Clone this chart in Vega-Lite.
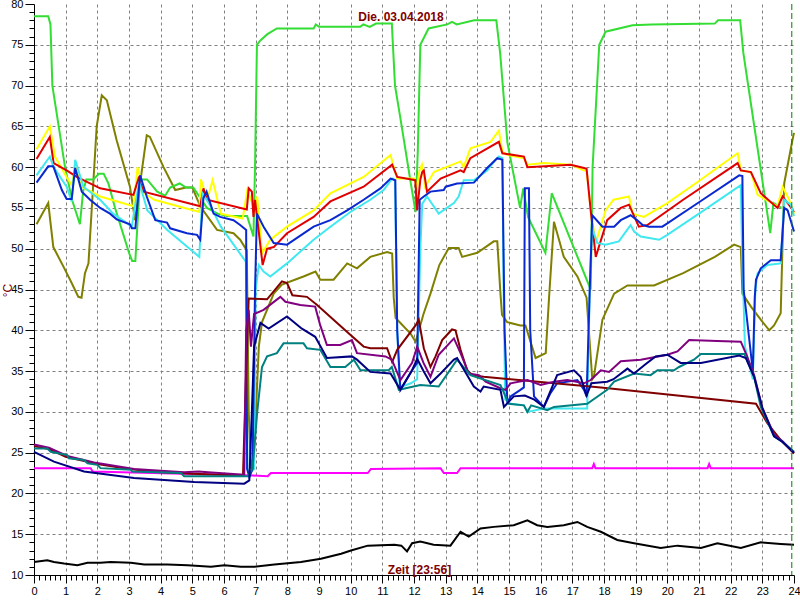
{
"$schema": "https://vega.github.io/schema/vega-lite/v6.json",
"autosize": {"type": "none"},
"padding": {"left": 34, "top": 4, "right": 6, "bottom": 25},
"width": 760,
"height": 571,
"background": "white",
"title": {"text": "Die. 03.04.2018", "color": "#800000", "font": "Liberation Sans", "fontSize": 12, "fontWeight": "bold", "anchor": "middle", "offset": -26, "dx": -13},
"config": {
  "view": {"stroke": null},
  "axis": {"domainColor": "#000000", "tickColor": "#000000", "labelColor": "#000000", "labelFont": "Liberation Sans", "labelFontSize": 11, "labelOverlap": false, "labelFlush": false, "gridColor": "#808080", "gridDash": [3, 3], "gridWidth": 1}
},
"resolve": {"axis": {"x": "independent", "y": "independent"}},
"layer": [
{
"data": {"values": [
{"s":"k","h":0,"t":11.6},{"s":"k","h":0.42,"t":11.8},{"s":"k","h":0.63,"t":11.6},{"s":"k","h":0.95,"t":11.4},{"s":"k","h":1.37,"t":11.2},{"s":"k","h":1.69,"t":11.5},{"s":"k","h":2.1,"t":11.5},{"s":"k","h":2.42,"t":11.6},{"s":"k","h":3.06,"t":11.5},{"s":"k","h":3.48,"t":11.3},{"s":"k","h":4.21,"t":11.3},{"s":"k","h":4.85,"t":11.2},{"s":"k","h":5.59,"t":11.0},{"s":"k","h":6.01,"t":11.2},{"s":"k","h":6.53,"t":11.0},{"s":"k","h":6.96,"t":11.0},{"s":"k","h":7.59,"t":11.3},{"s":"k","h":8.43,"t":11.6},{"s":"k","h":9.06,"t":12.0},{"s":"k","h":9.7,"t":12.6},{"s":"k","h":10.01,"t":13.0},{"s":"k","h":10.54,"t":13.6},{"s":"k","h":11.38,"t":13.7},{"s":"k","h":11.6,"t":13.6},{"s":"k","h":11.78,"t":12.9},{"s":"k","h":11.94,"t":13.9},{"s":"k","h":12.2,"t":14.1},{"s":"k","h":12.62,"t":13.7},{"s":"k","h":13.15,"t":13.6},{"s":"k","h":13.47,"t":15.3},{"s":"k","h":13.73,"t":14.7},{"s":"k","h":14.1,"t":15.7},{"s":"k","h":14.52,"t":15.9},{"s":"k","h":15.15,"t":16.1},{"s":"k","h":15.58,"t":16.7},{"s":"k","h":15.89,"t":16.1},{"s":"k","h":16.21,"t":15.9},{"s":"k","h":16.73,"t":16.1},{"s":"k","h":17.16,"t":16.5},{"s":"k","h":17.47,"t":15.9},{"s":"k","h":17.9,"t":15.3},{"s":"k","h":18.42,"t":14.3},{"s":"k","h":18.95,"t":13.9},{"s":"k","h":19.79,"t":13.3},{"s":"k","h":20.32,"t":13.6},{"s":"k","h":21.06,"t":13.3},{"s":"k","h":21.58,"t":13.9},{"s":"k","h":22.32,"t":13.3},{"s":"k","h":22.95,"t":14.0},{"s":"k","h":23.58,"t":13.8},{"s":"k","h":24,"t":13.7},

{"s":"mg","h":0,"t":23.1},{"s":"mg","h":1.79,"t":23.1},{"s":"mg","h":1.85,"t":22.7},{"s":"mg","h":6.9,"t":22.2},{"s":"mg","h":7.38,"t":22.1},{"s":"mg","h":7.48,"t":22.5},{"s":"mg","h":10.54,"t":22.5},{"s":"mg","h":10.64,"t":23.0},{"s":"mg","h":12.84,"t":23.1},{"s":"mg","h":12.94,"t":22.5},{"s":"mg","h":13.36,"t":22.5},{"s":"mg","h":13.47,"t":23.1},{"s":"mg","h":17.63,"t":23.1},{"s":"mg","h":17.68,"t":23.6},{"s":"mg","h":17.73,"t":23.1},{"s":"mg","h":21.27,"t":23.1},{"s":"mg","h":21.32,"t":23.6},{"s":"mg","h":21.37,"t":23.1},{"s":"mg","h":24,"t":23.1},

{"s":"o","h":0.08,"t":53.0},{"s":"o","h":0.45,"t":55.6},{"s":"o","h":0.61,"t":50.2},{"s":"o","h":0.93,"t":47.8},{"s":"o","h":1.19,"t":45.8},{"s":"o","h":1.4,"t":44.1},{"s":"o","h":1.5,"t":44.0},{"s":"o","h":1.61,"t":47.0},{"s":"o","h":1.72,"t":48.2},{"s":"o","h":1.98,"t":65.0},{"s":"o","h":2.14,"t":68.8},{"s":"o","h":2.3,"t":68.2},{"s":"o","h":2.61,"t":63.3},{"s":"o","h":3.03,"t":57.6},{"s":"o","h":3.19,"t":53.5},{"s":"o","h":3.35,"t":58.0},{"s":"o","h":3.56,"t":63.9},{"s":"o","h":3.66,"t":63.7},{"s":"o","h":4.09,"t":60.0},{"s":"o","h":4.46,"t":57.2},{"s":"o","h":4.8,"t":57.5},{"s":"o","h":5.0,"t":57.5},{"s":"o","h":5.25,"t":55.2},{"s":"o","h":5.78,"t":52.3},{"s":"o","h":6.3,"t":51.9},{"s":"o","h":6.51,"t":51.1},{"s":"o","h":6.72,"t":49.8},{"s":"o","h":6.78,"t":30.0},{"s":"o","h":6.85,"t":23.0},{"s":"o","h":6.95,"t":25.0},{"s":"o","h":7.1,"t":38.0},{"s":"o","h":7.2,"t":41.0},{"s":"o","h":7.57,"t":44.5},{"s":"o","h":7.83,"t":45.6},{"s":"o","h":8.51,"t":46.6},{"s":"o","h":8.89,"t":47.2},{"s":"o","h":9.04,"t":46.2},{"s":"o","h":9.46,"t":46.2},{"s":"o","h":9.89,"t":48.2},{"s":"o","h":10.2,"t":47.6},{"s":"o","h":10.62,"t":49.0},{"s":"o","h":11.15,"t":49.6},{"s":"o","h":11.31,"t":49.4},{"s":"o","h":11.36,"t":44.0},{"s":"o","h":11.42,"t":41.5},{"s":"o","h":11.89,"t":39.6},{"s":"o","h":12.05,"t":38.6},{"s":"o","h":12.3,"t":42.0},{"s":"o","h":12.52,"t":44.5},{"s":"o","h":12.8,"t":48.0},{"s":"o","h":13.1,"t":50.1},{"s":"o","h":13.41,"t":50.1},{"s":"o","h":13.52,"t":49.0},{"s":"o","h":14.0,"t":49.5},{"s":"o","h":14.52,"t":50.9},{"s":"o","h":14.63,"t":50.9},{"s":"o","h":14.73,"t":44.5},{"s":"o","h":14.78,"t":41.9},{"s":"o","h":14.94,"t":41.0},{"s":"o","h":15.36,"t":40.6},{"s":"o","h":15.52,"t":40.6},{"s":"o","h":15.84,"t":36.6},{"s":"o","h":16.16,"t":37.2},{"s":"o","h":16.26,"t":43.7},{"s":"o","h":16.42,"t":53.3},{"s":"o","h":16.73,"t":49.0},{"s":"o","h":17.16,"t":46.6},{"s":"o","h":17.45,"t":44.0},{"s":"o","h":17.63,"t":34.0},{"s":"o","h":17.68,"t":34.3},{"s":"o","h":17.95,"t":41.3},{"s":"o","h":18.32,"t":44.5},{"s":"o","h":18.74,"t":45.5},{"s":"o","h":19.58,"t":45.5},{"s":"o","h":20.5,"t":47.0},{"s":"o","h":21.5,"t":49.0},{"s":"o","h":22.11,"t":50.5},{"s":"o","h":22.32,"t":50.2},{"s":"o","h":22.37,"t":44.5},{"s":"o","h":22.64,"t":42.9},{"s":"o","h":22.95,"t":41.3},{"s":"o","h":23.22,"t":40.0},{"s":"o","h":23.37,"t":40.6},{"s":"o","h":23.58,"t":42.1},{"s":"o","h":23.69,"t":58.0},{"s":"o","h":23.95,"t":63.3},{"s":"o","h":24,"t":64.2},

{"s":"g","h":0,"t":78.5},{"s":"g","h":0.45,"t":78.5},{"s":"g","h":0.52,"t":77.5},{"s":"g","h":0.58,"t":70.0},{"s":"g","h":0.8,"t":64.5},{"s":"g","h":0.98,"t":60.0},{"s":"g","h":1.2,"t":56.0},{"s":"g","h":1.45,"t":53.0},{"s":"g","h":1.55,"t":57.0},{"s":"g","h":1.65,"t":58.5},{"s":"g","h":1.87,"t":58.5},{"s":"g","h":2.05,"t":59.2},{"s":"g","h":2.2,"t":59.2},{"s":"g","h":2.35,"t":58.0},{"s":"g","h":2.56,"t":55.0},{"s":"g","h":2.8,"t":52.0},{"s":"g","h":3.0,"t":49.5},{"s":"g","h":3.1,"t":48.5},{"s":"g","h":3.2,"t":48.5},{"s":"g","h":3.35,"t":58.5},{"s":"g","h":3.57,"t":58.5},{"s":"g","h":3.89,"t":57.0},{"s":"g","h":4.14,"t":56.5},{"s":"g","h":4.3,"t":57.5},{"s":"g","h":4.6,"t":58.0},{"s":"g","h":4.8,"t":57.5},{"s":"g","h":5.03,"t":57.5},{"s":"g","h":5.46,"t":55.0},{"s":"g","h":5.8,"t":54.3},{"s":"g","h":6.1,"t":54.0},{"s":"g","h":6.73,"t":54.0},{"s":"g","h":6.93,"t":51.5},{"s":"g","h":6.98,"t":60.0},{"s":"g","h":7.04,"t":75.0},{"s":"g","h":7.14,"t":75.5},{"s":"g","h":7.37,"t":76.3},{"s":"g","h":7.67,"t":77.0},{"s":"g","h":8.83,"t":77.0},{"s":"g","h":8.9,"t":77.5},{"s":"g","h":9.0,"t":77.2},{"s":"g","h":10.3,"t":77.2},{"s":"g","h":10.4,"t":77.5},{"s":"g","h":10.6,"t":77.2},{"s":"g","h":10.8,"t":77.6},{"s":"g","h":11.3,"t":77.6},{"s":"g","h":11.4,"t":70.0},{"s":"g","h":11.57,"t":66.0},{"s":"g","h":11.9,"t":58.0},{"s":"g","h":12.05,"t":54.5},{"s":"g","h":12.12,"t":62.0},{"s":"g","h":12.2,"t":75.0},{"s":"g","h":12.46,"t":77.0},{"s":"g","h":13.05,"t":77.5},{"s":"g","h":13.2,"t":77.8},{"s":"g","h":13.35,"t":77.5},{"s":"g","h":13.9,"t":78.0},{"s":"g","h":14.6,"t":78.0},{"s":"g","h":14.72,"t":74.0},{"s":"g","h":14.95,"t":63.0},{"s":"g","h":15.35,"t":55.0},{"s":"g","h":15.45,"t":57.4},{"s":"g","h":15.6,"t":53.9},{"s":"g","h":16.15,"t":49.5},{"s":"g","h":16.35,"t":56.8},{"s":"g","h":17.58,"t":45.0},{"s":"g","h":17.64,"t":60.0},{"s":"g","h":17.85,"t":75.0},{"s":"g","h":18.05,"t":76.6},{"s":"g","h":18.9,"t":77.4},{"s":"g","h":19.5,"t":77.5},{"s":"g","h":21.5,"t":77.6},{"s":"g","h":21.6,"t":78.0},{"s":"g","h":22.3,"t":78.0},{"s":"g","h":22.4,"t":74.0},{"s":"g","h":23.25,"t":51.9},{"s":"g","h":23.35,"t":55.6},{"s":"g","h":23.6,"t":55.0},

{"s":"y","h":0.08,"t":62.2},{"s":"y","h":0.5,"t":65.0},{"s":"y","h":0.66,"t":61.3},{"s":"y","h":1.03,"t":58.8},{"s":"y","h":1.19,"t":57.8},{"s":"y","h":1.3,"t":60.0},{"s":"y","h":1.5,"t":57.6},{"s":"y","h":2.09,"t":56.4},{"s":"y","h":3.14,"t":55.2},{"s":"y","h":3.22,"t":58.0},{"s":"y","h":3.27,"t":60.0},{"s":"y","h":3.48,"t":56.8},{"s":"y","h":3.8,"t":56.0},{"s":"y","h":5.22,"t":54.5},{"s":"y","h":5.27,"t":58.5},{"s":"y","h":5.47,"t":56.0},{"s":"y","h":5.64,"t":58.4},{"s":"y","h":5.9,"t":54.3},{"s":"y","h":6.59,"t":53.7},{"s":"y","h":6.74,"t":57.2},{"s":"y","h":6.9,"t":55.5},{"s":"y","h":6.96,"t":54.3},{"s":"y","h":7.05,"t":56.4},{"s":"y","h":7.2,"t":49.4},{"s":"y","h":7.46,"t":51.1},{"s":"y","h":7.99,"t":52.7},{"s":"y","h":8.83,"t":54.7},{"s":"y","h":9.36,"t":56.8},{"s":"y","h":10.41,"t":58.8},{"s":"y","h":11.26,"t":61.5},{"s":"y","h":11.36,"t":60.0},{"s":"y","h":11.47,"t":58.6},{"s":"y","h":12.0,"t":58.6},{"s":"y","h":12.1,"t":57.5},{"s":"y","h":12.17,"t":59.5},{"s":"y","h":12.25,"t":60.3},{"s":"y","h":12.35,"t":57.6},{"s":"y","h":12.63,"t":59.4},{"s":"y","h":13.47,"t":60.7},{"s":"y","h":13.57,"t":60.0},{"s":"y","h":13.78,"t":62.3},{"s":"y","h":14.42,"t":63.1},{"s":"y","h":14.68,"t":64.5},{"s":"y","h":14.79,"t":61.9},{"s":"y","h":14.94,"t":61.5},{"s":"y","h":15.47,"t":61.1},{"s":"y","h":15.58,"t":60.3},{"s":"y","h":16.1,"t":60.5},{"s":"y","h":16.95,"t":60.3},{"s":"y","h":17.37,"t":59.6},{"s":"y","h":17.45,"t":59.6},{"s":"y","h":17.58,"t":54.7},{"s":"y","h":17.74,"t":50.7},{"s":"y","h":18.05,"t":54.7},{"s":"y","h":18.3,"t":56.0},{"s":"y","h":18.79,"t":56.4},{"s":"y","h":18.9,"t":54.3},{"s":"y","h":19.26,"t":53.9},{"s":"y","h":20.0,"t":55.6},{"s":"y","h":21.0,"t":58.3},{"s":"y","h":22.22,"t":61.7},{"s":"y","h":22.32,"t":59.6},{"s":"y","h":22.64,"t":59.4},{"s":"y","h":22.85,"t":56.6},{"s":"y","h":23.48,"t":55.2},{"s":"y","h":23.64,"t":57.6},{"s":"y","h":23.85,"t":56.0},{"s":"y","h":24,"t":54.3},

{"s":"r","h":0.08,"t":61.0},{"s":"r","h":0.5,"t":63.7},{"s":"r","h":0.62,"t":60.5},{"s":"r","h":1.03,"t":59.6},{"s":"r","h":1.35,"t":58.8},{"s":"r","h":2.09,"t":57.4},{"s":"r","h":3.14,"t":56.6},{"s":"r","h":3.3,"t":58.6},{"s":"r","h":3.46,"t":57.0},{"s":"r","h":5.25,"t":55.2},{"s":"r","h":5.35,"t":57.4},{"s":"r","h":5.46,"t":56.0},{"s":"r","h":6.72,"t":54.8},{"s":"r","h":6.78,"t":57.4},{"s":"r","h":6.88,"t":57.0},{"s":"r","h":6.93,"t":53.9},{"s":"r","h":6.98,"t":56.0},{"s":"r","h":7.1,"t":52.0},{"s":"r","h":7.22,"t":48.0},{"s":"r","h":7.36,"t":50.0},{"s":"r","h":7.57,"t":50.2},{"s":"r","h":7.99,"t":51.9},{"s":"r","h":8.83,"t":53.9},{"s":"r","h":9.36,"t":55.8},{"s":"r","h":10.41,"t":57.6},{"s":"r","h":11.31,"t":60.3},{"s":"r","h":11.47,"t":58.8},{"s":"r","h":12.04,"t":58.4},{"s":"r","h":12.1,"t":54.7},{"s":"r","h":12.2,"t":58.5},{"s":"r","h":12.26,"t":59.4},{"s":"r","h":12.31,"t":59.6},{"s":"r","h":12.41,"t":57.0},{"s":"r","h":12.84,"t":58.6},{"s":"r","h":13.47,"t":59.6},{"s":"r","h":13.57,"t":59.4},{"s":"r","h":13.78,"t":61.1},{"s":"r","h":14.68,"t":63.1},{"s":"r","h":14.79,"t":61.7},{"s":"r","h":15.47,"t":61.3},{"s":"r","h":15.58,"t":60.0},{"s":"r","h":16.95,"t":60.3},{"s":"r","h":17.37,"t":59.9},{"s":"r","h":17.45,"t":59.8},{"s":"r","h":17.58,"t":54.7},{"s":"r","h":17.74,"t":49.0},{"s":"r","h":18.1,"t":53.5},{"s":"r","h":18.53,"t":55.0},{"s":"r","h":18.79,"t":55.4},{"s":"r","h":19.1,"t":52.7},{"s":"r","h":19.37,"t":52.9},{"s":"r","h":20.5,"t":56.0},{"s":"r","h":22.22,"t":60.5},{"s":"r","h":22.32,"t":59.6},{"s":"r","h":22.64,"t":59.4},{"s":"r","h":22.95,"t":56.8},{"s":"r","h":23.48,"t":55.0},{"s":"r","h":23.64,"t":56.4},{"s":"r","h":23.8,"t":55.6},{"s":"r","h":24,"t":54.5},

{"s":"c","h":0.08,"t":59.0},{"s":"c","h":0.5,"t":61.3},{"s":"c","h":0.62,"t":60.0},{"s":"c","h":1.03,"t":57.6},{"s":"c","h":1.19,"t":55.8},{"s":"c","h":1.3,"t":60.9},{"s":"c","h":1.56,"t":57.6},{"s":"c","h":2.09,"t":56.0},{"s":"c","h":2.5,"t":54.3},{"s":"c","h":3.09,"t":52.7},{"s":"c","h":3.18,"t":55.0},{"s":"c","h":3.32,"t":58.2},{"s":"c","h":3.58,"t":54.7},{"s":"c","h":4.21,"t":52.3},{"s":"c","h":5.22,"t":49.0},{"s":"c","h":5.32,"t":56.8},{"s":"c","h":5.58,"t":55.2},{"s":"c","h":5.9,"t":52.7},{"s":"c","h":6.69,"t":48.4},{"s":"c","h":6.74,"t":23.0},{"s":"c","h":6.8,"t":22.5},{"s":"c","h":6.95,"t":23.0},{"s":"c","h":7.0,"t":45.0},{"s":"c","h":7.1,"t":48.0},{"s":"c","h":7.25,"t":47.2},{"s":"c","h":7.46,"t":46.6},{"s":"c","h":7.99,"t":48.2},{"s":"c","h":8.83,"t":51.1},{"s":"c","h":9.36,"t":52.7},{"s":"c","h":9.99,"t":54.5},{"s":"c","h":10.62,"t":56.0},{"s":"c","h":11.04,"t":57.2},{"s":"c","h":11.31,"t":58.6},{"s":"c","h":11.4,"t":58.4},{"s":"c","h":11.47,"t":40.0},{"s":"c","h":11.55,"t":33.0},{"s":"c","h":11.9,"t":33.5},{"s":"c","h":12.1,"t":34.0},{"s":"c","h":12.2,"t":50.0},{"s":"c","h":12.26,"t":55.5},{"s":"c","h":12.41,"t":56.4},{"s":"c","h":12.78,"t":54.3},{"s":"c","h":13.26,"t":55.6},{"s":"c","h":13.41,"t":56.4},{"s":"c","h":13.57,"t":58.4},{"s":"c","h":13.89,"t":58.4},{"s":"c","h":14.31,"t":59.6},{"s":"c","h":14.57,"t":60.9},{"s":"c","h":14.68,"t":61.3},{"s":"c","h":14.79,"t":61.1},{"s":"c","h":14.83,"t":45.0},{"s":"c","h":14.88,"t":31.5},{"s":"c","h":15.05,"t":31.0},{"s":"c","h":15.47,"t":30.8},{"s":"c","h":15.58,"t":30.0},{"s":"c","h":16.1,"t":30.4},{"s":"c","h":17.47,"t":30.4},{"s":"c","h":17.55,"t":45.0},{"s":"c","h":17.62,"t":53.0},{"s":"c","h":17.68,"t":51.9},{"s":"c","h":17.79,"t":50.7},{"s":"c","h":18.05,"t":50.5},{"s":"c","h":18.47,"t":50.9},{"s":"c","h":18.69,"t":52.1},{"s":"c","h":18.84,"t":52.9},{"s":"c","h":18.95,"t":52.1},{"s":"c","h":19.16,"t":51.5},{"s":"c","h":19.74,"t":51.1},{"s":"c","h":20.0,"t":51.7},{"s":"c","h":21.0,"t":54.3},{"s":"c","h":22.32,"t":57.8},{"s":"c","h":22.36,"t":50.0},{"s":"c","h":22.45,"t":38.0},{"s":"c","h":22.7,"t":34.0},{"s":"c","h":22.78,"t":45.0},{"s":"c","h":22.85,"t":47.0},{"s":"c","h":23.16,"t":48.0},{"s":"c","h":23.58,"t":48.2},{"s":"c","h":23.69,"t":56.0},{"s":"c","h":23.9,"t":55.4},{"s":"c","h":24,"t":54.0},

{"s":"b","h":0.08,"t":58.1},{"s":"b","h":0.45,"t":60.1},{"s":"b","h":0.61,"t":60.1},{"s":"b","h":0.88,"t":57.2},{"s":"b","h":1.03,"t":56.1},{"s":"b","h":1.19,"t":56.1},{"s":"b","h":1.3,"t":59.9},{"s":"b","h":1.51,"t":57.0},{"s":"b","h":1.77,"t":56.0},{"s":"b","h":2.09,"t":55.0},{"s":"b","h":2.4,"t":54.3},{"s":"b","h":2.61,"t":53.6},{"s":"b","h":3.03,"t":53.0},{"s":"b","h":3.09,"t":52.5},{"s":"b","h":3.2,"t":52.5},{"s":"b","h":3.35,"t":59.0},{"s":"b","h":3.56,"t":56.4},{"s":"b","h":3.83,"t":53.5},{"s":"b","h":4.2,"t":53.2},{"s":"b","h":4.3,"t":52.5},{"s":"b","h":4.83,"t":51.9},{"s":"b","h":5.15,"t":51.7},{"s":"b","h":5.25,"t":51.1},{"s":"b","h":5.35,"t":56.2},{"s":"b","h":5.45,"t":57.0},{"s":"b","h":5.67,"t":54.3},{"s":"b","h":5.88,"t":53.9},{"s":"b","h":6.3,"t":53.5},{"s":"b","h":6.51,"t":52.9},{"s":"b","h":6.7,"t":52.3},{"s":"b","h":6.73,"t":23.0},{"s":"b","h":6.8,"t":22.0},{"s":"b","h":6.9,"t":23.0},{"s":"b","h":6.98,"t":45.0},{"s":"b","h":7.04,"t":54.3},{"s":"b","h":7.25,"t":52.7},{"s":"b","h":7.57,"t":50.7},{"s":"b","h":7.99,"t":50.5},{"s":"b","h":8.83,"t":52.7},{"s":"b","h":9.36,"t":53.5},{"s":"b","h":9.89,"t":54.7},{"s":"b","h":10.41,"t":56.0},{"s":"b","h":10.94,"t":57.4},{"s":"b","h":11.26,"t":58.6},{"s":"b","h":11.41,"t":58.4},{"s":"b","h":11.47,"t":40.0},{"s":"b","h":11.57,"t":32.7},{"s":"b","h":11.94,"t":35.1},{"s":"b","h":12.1,"t":36.0},{"s":"b","h":12.18,"t":56.0},{"s":"b","h":12.31,"t":56.4},{"s":"b","h":12.52,"t":57.0},{"s":"b","h":12.94,"t":57.2},{"s":"b","h":13.0,"t":57.6},{"s":"b","h":13.36,"t":58.0},{"s":"b","h":13.89,"t":58.1},{"s":"b","h":14.1,"t":59.0},{"s":"b","h":14.31,"t":59.9},{"s":"b","h":14.63,"t":61.1},{"s":"b","h":14.79,"t":60.9},{"s":"b","h":14.86,"t":40.0},{"s":"b","h":14.95,"t":31.0},{"s":"b","h":15.05,"t":31.9},{"s":"b","h":15.36,"t":32.7},{"s":"b","h":15.47,"t":33.0},{"s":"b","h":15.5,"t":57.4},{"s":"b","h":15.63,"t":57.4},{"s":"b","h":15.67,"t":40.0},{"s":"b","h":15.79,"t":31.9},{"s":"b","h":16.1,"t":30.6},{"s":"b","h":16.31,"t":32.3},{"s":"b","h":16.52,"t":33.5},{"s":"b","h":17.16,"t":33.9},{"s":"b","h":17.37,"t":32.7},{"s":"b","h":17.45,"t":31.9},{"s":"b","h":17.55,"t":45.0},{"s":"b","h":17.63,"t":54.1},{"s":"b","h":17.95,"t":52.7},{"s":"b","h":18.32,"t":52.7},{"s":"b","h":18.53,"t":53.5},{"s":"b","h":18.84,"t":54.1},{"s":"b","h":19.05,"t":53.5},{"s":"b","h":19.22,"t":52.9},{"s":"b","h":19.42,"t":52.7},{"s":"b","h":19.84,"t":52.7},{"s":"b","h":20.0,"t":53.1},{"s":"b","h":21.0,"t":55.7},{"s":"b","h":22.27,"t":59.0},{"s":"b","h":22.37,"t":58.9},{"s":"b","h":22.41,"t":45.0},{"s":"b","h":22.7,"t":35.0},{"s":"b","h":22.76,"t":44.0},{"s":"b","h":22.8,"t":46.2},{"s":"b","h":22.95,"t":47.6},{"s":"b","h":23.27,"t":48.6},{"s":"b","h":23.58,"t":48.6},{"s":"b","h":23.69,"t":55.0},{"s":"b","h":23.8,"t":54.7},{"s":"b","h":24,"t":52.1},

{"s":"m","h":0,"t":25.8},{"s":"m","h":0.5,"t":25.4},{"s":"m","h":1,"t":24.5},{"s":"m","h":2,"t":23.6},{"s":"m","h":3,"t":23.0},{"s":"m","h":4,"t":22.6},{"s":"m","h":5,"t":22.4},{"s":"m","h":6.6,"t":22.2},{"s":"m","h":6.7,"t":35.0},{"s":"m","h":6.78,"t":43.9},{"s":"m","h":7.36,"t":43.8},{"s":"m","h":7.83,"t":46.0},{"s":"m","h":7.99,"t":45.8},{"s":"m","h":8.16,"t":44.3},{"s":"m","h":8.62,"t":44.1},{"s":"m","h":8.94,"t":43.1},{"s":"m","h":9.89,"t":39.8},{"s":"m","h":10.41,"t":38.0},{"s":"m","h":10.62,"t":37.8},{"s":"m","h":11.15,"t":37.8},{"s":"m","h":11.31,"t":36.1},{"s":"m","h":11.47,"t":37.6},{"s":"m","h":12.05,"t":40.6},{"s":"m","h":12.15,"t":41.3},{"s":"m","h":12.31,"t":37.8},{"s":"m","h":12.52,"t":35.5},{"s":"m","h":12.68,"t":36.8},{"s":"m","h":12.89,"t":38.8},{"s":"m","h":13.2,"t":40.1},{"s":"m","h":13.31,"t":40.0},{"s":"m","h":13.47,"t":37.6},{"s":"m","h":13.68,"t":35.1},{"s":"m","h":13.84,"t":34.5},{"s":"m","h":14.2,"t":34.3},{"s":"m","h":17.9,"t":33.0},{"s":"m","h":22.8,"t":31.0},{"s":"m","h":23.16,"t":28.6},{"s":"m","h":23.59,"t":26.5},{"s":"m","h":24,"t":24.9},

{"s":"p","h":0,"t":26.0},{"s":"p","h":0.47,"t":25.6},{"s":"p","h":1.05,"t":24.6},{"s":"p","h":1.9,"t":23.8},{"s":"p","h":3.16,"t":23.0},{"s":"p","h":4.74,"t":22.6},{"s":"p","h":5.2,"t":22.7},{"s":"p","h":5.5,"t":22.6},{"s":"p","h":6.64,"t":22.3},{"s":"p","h":6.7,"t":40.0},{"s":"p","h":6.78,"t":42.5},{"s":"p","h":6.85,"t":38.0},{"s":"p","h":6.95,"t":42.0},{"s":"p","h":7.25,"t":42.5},{"s":"p","h":7.78,"t":44.1},{"s":"p","h":7.94,"t":43.5},{"s":"p","h":8.41,"t":43.1},{"s":"p","h":8.88,"t":42.9},{"s":"p","h":9.04,"t":40.6},{"s":"p","h":9.25,"t":38.2},{"s":"p","h":9.67,"t":38.2},{"s":"p","h":10.04,"t":38.8},{"s":"p","h":10.2,"t":37.2},{"s":"p","h":11.1,"t":36.8},{"s":"p","h":11.3,"t":36.4},{"s":"p","h":11.57,"t":33.9},{"s":"p","h":11.94,"t":36.0},{"s":"p","h":12.1,"t":38.0},{"s":"p","h":12.3,"t":36.0},{"s":"p","h":12.52,"t":34.3},{"s":"p","h":12.78,"t":37.0},{"s":"p","h":13.26,"t":39.0},{"s":"p","h":13.47,"t":37.2},{"s":"p","h":13.73,"t":34.7},{"s":"p","h":14.05,"t":34.5},{"s":"p","h":14.26,"t":33.7},{"s":"p","h":14.73,"t":32.9},{"s":"p","h":14.89,"t":32.7},{"s":"p","h":15.05,"t":33.5},{"s":"p","h":15.58,"t":33.9},{"s":"p","h":16.0,"t":33.3},{"s":"p","h":16.42,"t":33.7},{"s":"p","h":16.84,"t":33.9},{"s":"p","h":17.37,"t":33.5},{"s":"p","h":17.58,"t":33.9},{"s":"p","h":17.9,"t":35.1},{"s":"p","h":18.16,"t":34.9},{"s":"p","h":18.53,"t":36.2},{"s":"p","h":19.16,"t":36.4},{"s":"p","h":20.0,"t":37.0},{"s":"p","h":20.32,"t":37.4},{"s":"p","h":20.69,"t":38.8},{"s":"p","h":21.58,"t":38.7},{"s":"p","h":22.32,"t":38.6},{"s":"p","h":22.5,"t":37.0},{"s":"p","h":22.74,"t":34.5},{"s":"p","h":23.0,"t":30.5},{"s":"p","h":23.37,"t":27.2},{"s":"p","h":23.64,"t":26.4},{"s":"p","h":24,"t":25.0},

{"s":"t","h":0,"t":25.5},{"s":"t","h":0.42,"t":25.5},{"s":"t","h":0.53,"t":25.1},{"s":"t","h":1.05,"t":24.7},{"s":"t","h":1.1,"t":24.3},{"s":"t","h":1.58,"t":24.1},{"s":"t","h":1.69,"t":23.7},{"s":"t","h":2.0,"t":23.5},{"s":"t","h":2.1,"t":23.1},{"s":"t","h":3.06,"t":22.9},{"s":"t","h":3.1,"t":22.7},{"s":"t","h":4.64,"t":22.5},{"s":"t","h":4.74,"t":22.1},{"s":"t","h":6.74,"t":22.1},{"s":"t","h":6.9,"t":23.0},{"s":"t","h":7.05,"t":30.0},{"s":"t","h":7.2,"t":35.5},{"s":"t","h":7.36,"t":36.8},{"s":"t","h":7.67,"t":37.2},{"s":"t","h":7.88,"t":38.4},{"s":"t","h":8.51,"t":38.4},{"s":"t","h":8.62,"t":37.8},{"s":"t","h":9.04,"t":37.6},{"s":"t","h":9.36,"t":35.5},{"s":"t","h":9.83,"t":35.5},{"s":"t","h":10.1,"t":36.4},{"s":"t","h":10.31,"t":35.1},{"s":"t","h":11.2,"t":35.1},{"s":"t","h":11.3,"t":35.5},{"s":"t","h":11.52,"t":32.7},{"s":"t","h":12.2,"t":33.3},{"s":"t","h":12.78,"t":33.1},{"s":"t","h":13.36,"t":36.4},{"s":"t","h":13.78,"t":34.5},{"s":"t","h":14.73,"t":33.3},{"s":"t","h":14.99,"t":31.0},{"s":"t","h":15.47,"t":30.8},{"s":"t","h":15.58,"t":30.0},{"s":"t","h":15.7,"t":30.8},{"s":"t","h":16.21,"t":30.2},{"s":"t","h":16.42,"t":30.6},{"s":"t","h":17.47,"t":31.0},{"s":"t","h":18.1,"t":32.7},{"s":"t","h":18.32,"t":33.7},{"s":"t","h":18.95,"t":34.7},{"s":"t","h":19.47,"t":34.5},{"s":"t","h":19.69,"t":35.1},{"s":"t","h":20.21,"t":35.1},{"s":"t","h":20.37,"t":35.5},{"s":"t","h":20.84,"t":36.4},{"s":"t","h":21.06,"t":37.1},{"s":"t","h":22.43,"t":37.1},{"s":"t","h":22.74,"t":34.3},{"s":"t","h":22.95,"t":30.6},{"s":"t","h":23.37,"t":27.0},{"s":"t","h":23.64,"t":26.3},{"s":"t","h":24,"t":25.1},

{"s":"n","h":0,"t":25.1},{"s":"n","h":0.63,"t":23.9},{"s":"n","h":1.58,"t":22.7},{"s":"n","h":3.16,"t":21.9},{"s":"n","h":5.06,"t":21.4},{"s":"n","h":6.64,"t":21.2},{"s":"n","h":6.8,"t":21.6},{"s":"n","h":6.88,"t":30.0},{"s":"n","h":6.95,"t":38.0},{"s":"n","h":7.15,"t":40.9},{"s":"n","h":7.41,"t":40.2},{"s":"n","h":7.99,"t":41.7},{"s":"n","h":8.46,"t":40.2},{"s":"n","h":8.88,"t":39.2},{"s":"n","h":9.25,"t":36.6},{"s":"n","h":10.04,"t":36.8},{"s":"n","h":10.2,"t":36.4},{"s":"n","h":10.62,"t":34.9},{"s":"n","h":11.26,"t":34.7},{"s":"n","h":11.57,"t":32.7},{"s":"n","h":11.94,"t":35.1},{"s":"n","h":12.1,"t":36.5},{"s":"n","h":12.3,"t":35.0},{"s":"n","h":12.52,"t":33.5},{"s":"n","h":12.84,"t":34.7},{"s":"n","h":13.26,"t":36.4},{"s":"n","h":13.36,"t":36.6},{"s":"n","h":13.89,"t":33.1},{"s":"n","h":14.1,"t":32.5},{"s":"n","h":14.2,"t":33.1},{"s":"n","h":14.73,"t":32.7},{"s":"n","h":14.84,"t":30.6},{"s":"n","h":15.15,"t":31.9},{"s":"n","h":15.5,"t":32.0},{"s":"n","h":15.8,"t":31.5},{"s":"n","h":16.1,"t":30.6},{"s":"n","h":16.52,"t":34.5},{"s":"n","h":17.05,"t":35.1},{"s":"n","h":17.26,"t":34.3},{"s":"n","h":17.45,"t":32.0},{"s":"n","h":17.6,"t":33.5},{"s":"n","h":18.1,"t":33.7},{"s":"n","h":18.3,"t":34.0},{"s":"n","h":18.74,"t":35.3},{"s":"n","h":18.95,"t":34.7},{"s":"n","h":19.3,"t":35.8},{"s":"n","h":19.63,"t":36.8},{"s":"n","h":20.0,"t":37.0},{"s":"n","h":20.42,"t":36.0},{"s":"n","h":21.06,"t":36.0},{"s":"n","h":22.27,"t":36.9},{"s":"n","h":22.48,"t":36.6},{"s":"n","h":22.74,"t":34.3},{"s":"n","h":23.0,"t":30.5},{"s":"n","h":23.37,"t":27.0},{"s":"n","h":23.64,"t":26.3},{"s":"n","h":24,"t":25.0}
]},
"mark": {"type": "line", "strokeWidth": 2},
"encoding": {
  "x": {"field": "h", "type": "quantitative", "scale": {"domain": [0, 24], "nice": false, "zero": false},
    "axis": {
      "values": [0,0.1667,0.3333,0.5,0.6667,0.8333,1,1.1667,1.3333,1.5,1.6667,1.8333,2,2.1667,2.3333,2.5,2.6667,2.8333,3,3.1667,3.3333,3.5,3.6667,3.8333,4,4.1667,4.3333,4.5,4.6667,4.8333,5,5.1667,5.3333,5.5,5.6667,5.8333,6,6.1667,6.3333,6.5,6.6667,6.8333,7,7.1667,7.3333,7.5,7.6667,7.8333,8,8.1667,8.3333,8.5,8.6667,8.8333,9,9.1667,9.3333,9.5,9.6667,9.8333,10,10.1667,10.3333,10.5,10.6667,10.8333,11,11.1667,11.3333,11.5,11.6667,11.8333,12,12.1667,12.3333,12.5,12.6667,12.8333,13,13.1667,13.3333,13.5,13.6667,13.8333,14,14.1667,14.3333,14.5,14.6667,14.8333,15,15.1667,15.3333,15.5,15.6667,15.8333,16,16.1667,16.3333,16.5,16.6667,16.8333,17,17.1667,17.3333,17.5,17.6667,17.8333,18,18.1667,18.3333,18.5,18.6667,18.8333,19,19.1667,19.3333,19.5,19.6667,19.8333,20,20.1667,20.3333,20.5,20.6667,20.8333,21,21.1667,21.3333,21.5,21.6667,21.8333,22,22.1667,22.3333,22.5,22.6667,22.8333,23,23.1667,23.3333,23.5,23.6667,23.8333,24],
      "labelExpr": "abs(datum.value - round(datum.value)) < 0.01 ? format(round(datum.value), 'd') : ''",
      "labelOverlap": false,
      "labelFlush": false,
      "tickSize": {"condition": {"test": "abs(datum.value - round(datum.value)) < 0.01", "value": 8}, "value": 5},
      "labelPadding": 2,
      "grid": true,
      "gridOpacity": {"condition": {"test": "abs(datum.value - round(datum.value)) < 0.01 && datum.value > 0.5 && datum.value < 23.5", "value": 1}, "value": 0},
      "title": "Zeit [23:56]", "titleColor": "#800000", "titleFont": "Liberation Sans", "titleFontSize": 12, "titleFontWeight": "bold",
      "titleX": 385, "titleY": -2, "titleBaseline": "alphabetic", "titleAlign": "center"
    }},
  "y": {"field": "t", "type": "quantitative", "scale": {"domain": [10, 80], "nice": false, "zero": false},
    "axis": {
      "values": [10,11,12,13,14,15,16,17,18,19,20,21,22,23,24,25,26,27,28,29,30,31,32,33,34,35,36,37,38,39,40,41,42,43,44,45,46,47,48,49,50,51,52,53,54,55,56,57,58,59,60,61,62,63,64,65,66,67,68,69,70,71,72,73,74,75,76,77,78,79,80],
      "labelExpr": "datum.value % 5 == 0 ? format(datum.value, 'd') : ''",
      "labelOverlap": false,
      "labelFlush": false,
      "tickSize": {"condition": {"test": "datum.value % 5 == 0", "value": 9}, "value": 5},
      "labelPadding": 2,
      "grid": true,
      "gridOpacity": {"condition": {"test": "datum.value % 5 == 0 && datum.value > 12 && datum.value < 78", "value": 1}, "value": 0},
      "title": "°C", "titleColor": "#800000", "titleFont": "Liberation Sans", "titleFontSize": 12, "titleFontWeight": "normal",
      "titleX": -20, "titleY": 286, "titleAlign": "center"
    }},
  "color": {"field": "s", "type": "nominal", "legend": null,
    "scale": {"domain": ["k","mg","o","g","y","r","c","b","m","p","t","n"],
              "range": ["#000000","#ff00ff","#808000","#33dd33","#ffff00","#e00000","#40e8f0","#0a28d0","#800000","#800080","#008080","#000080"]}}
}
},
{
"data": {"values": [{"now": 23.93}]},
"mark": {"type": "rule", "color": "#008000", "strokeDash": [6, 3], "strokeWidth": 1},
"encoding": {"x": {"field": "now", "type": "quantitative", "axis": null}}
}
]
}
